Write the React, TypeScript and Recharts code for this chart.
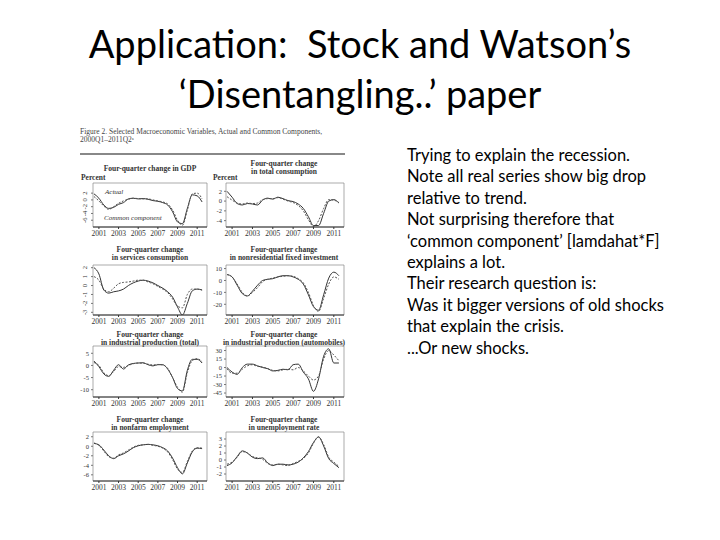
import { LineChart, Line, XAxis, YAxis, ReferenceArea } from "recharts";

// half-year points, 2000H2 .. 2011H2
const YEARS = [
  2000.5, 2001, 2001.5, 2002, 2002.5, 2003, 2003.5, 2004, 2004.5, 2005, 2005.5, 2006,
  2006.5, 2007, 2007.5, 2008, 2008.5, 2009, 2009.5, 2010, 2010.5, 2011, 2011.5,
];
const X_TICKS = [2001, 2003, 2005, 2007, 2009, 2011];

const gdpActual = [1.8, 0.5, -1.5, -2.5, -2.2, -1.3, -0.8, 0.3, 0.5, 0.3, 0.4, 0.2, -0.2, -0.4, -0.8, -1.5, -3.5, -6.5, -7, -2.5, 1.5, 1.2, -0.6];
const gdpCommon = [1.0, -0.3, -1.8, -2.8, -2, -1, -0.3, 0.2, 0.5, 0.4, 0.3, 0.3, 0, -0.3, -0.6, -1.2, -3, -6, -7.5, -3, 1.8, 2, 0.3];

const consActual = [2, 0.8, -0.5, -0.8, -0.5, -0.6, -0.8, 0.2, 0.6, 0.4, 0.8, 0.5, 0.1, -0.1, -0.6, -1.5, -3.2, -5, -5, -2.5, 0, 0.3, -0.4];
const consCommon = [0.9, 0.2, -0.4, -0.6, -0.4, -0.5, -0.4, 0.3, 0.5, 0.5, 0.7, 0.4, 0, -0.3, -0.9, -2, -3.8, -5.2, -4, -1.5, 0.3, 0.2, -0.3];

const servActual = [2.0, 1.3, -0.5, -0.85, -0.7, -0.6, -0.4, 0, 0.3, 0.5, 0.6, 0.5, 0.3, 0, -0.3, -0.7, -1.3, -2.4, -3.3, -2.0, -0.6, -0.4, -0.5];
const servCommon = [1.0, 0.6, -0.4, -0.7, -0.3, 0.2, 0.35, 0.4, 0.5, 0.6, 0.6, 0.4, 0.2, -0.1, -0.4, -0.8, -1.5, -2.3, -2.5, -1.0, -0.4, -0.4, -0.5];

const nonresActual = [5, 3, -4, -11, -13, -9, -4, 0, 1, 1.5, 3, 4, 4, 3, 1, -3, -12, -22, -25, -12, 2, 7, 4];
const nonresCommon = [5, 3, -3, -10, -13, -10, -6, -1, 1, 2, 3, 3.5, 4, 3.5, 1.5, -2, -10, -21, -26, -15, -3, 3, 1];

const ipActual = [1.8, -0.5, -3.5, -4.5, -2, 0.3, -1.5, 0.2, 0.8, 1, 1.1, 0.3, -0.2, 0.3, 0.3, -1.5, -5, -9.5, -10.5, -2, 2.5, 2.5, 1];
const ipCommon = [1.2, 0, -3, -4.2, -2.5, -0.5, -0.8, 0, 0.7, 1, 0.9, 0.5, 0.2, 0.4, 0.2, -1.2, -5, -9, -11, -3, 2, 2.8, 1.5];

const autoActual = [0, -8, -12, 0, 6, 6, 3, 0, -2, -6, -5, -3, -4, 5, 6, -8, -20, -42, -20, 20, 33, 8, 8];
const autoCommon = [-2, -10, -10, -3, 3, 5, 2, 1, -2, -5, -6, -4, -3, -4, 0, -6, -15, -22, -15, 15, 30, 22, 12];

const empActual = [0.6, 0.3, -0.8, -2, -2.6, -2, -1.6, -1, -0.3, 0.1, 0.3, 0.4, 0.3, 0.1, -0.3, -1, -2.5, -4.5, -5.8, -3.5, -1.2, -0.4, -0.5];
const empCommon = [0.7, 0.2, -1, -2.2, -2.5, -1.8, -1.4, -0.8, -0.2, 0.2, 0.3, 0.4, 0.2, 0, -0.4, -1.2, -2.8, -4.8, -5.5, -3.2, -1.0, -0.3, -0.4];

const unempActual = [-0.8, -0.4, 0.5, 1.3, 1.0, 0.4, 0.2, 0.3, -0.4, -0.8, -0.6, -0.6, -0.7, -0.6, -0.3, 0.3, 1.2, 2.5, 3.3, 2.0, 0.2, -0.5, -1.1];
const unempCommon = [-0.6, -0.3, 0.4, 1.2, 1.0, 0.5, 0.3, 0.1, -0.5, -0.7, -0.6, -0.7, -0.8, -0.5, -0.2, 0.2, 1.0, 2.4, 3.3, 2.2, 0.4, -0.3, -0.9];

const BODY_LINES = [
  "Trying to explain the recession.",
  "Note all real series show big drop",
  "relative to trend.",
  "Not surprising therefore that",
  "‘common component’ [lamdahat*F]",
  "explains a lot.",
  "Their research question is:",
  "Was it bigger versions of old shocks",
  "that explain the crisis.",
  "...Or new shocks.",
];

const SERIF = "'Liberation Serif', 'DejaVu Serif', serif";
const LEFT_COL = { left: 80, width: 131, yWidth: 13, right: 4 };
const RIGHT_COL = { left: 212, width: 134, yWidth: 14, right: 2 };

const PANELS = [
  { title: ["Four-quarter change in GDP"], actual: gdpActual, common: gdpCommon, domain: [-8, 5], ticks: [2, 0, -2, -4, -6], col: LEFT_COL, top: 182, height: 57, titleY: 164, percent: true, rotate: true },
  { title: ["Four-quarter change", "in total consumption"], actual: consActual, common: consCommon, domain: [-5.3, 3.7], ticks: [2, 0, -2, -4], col: RIGHT_COL, top: 182, height: 57, titleY: 160, percent: true },
  { title: ["Four-quarter change", "in services consumption"], actual: servActual, common: servCommon, domain: [-3.3, 2.3], ticks: [2, 1, 0, -1, -2, -3], col: LEFT_COL, top: 264, height: 63, titleY: 246, rotate: true },
  { title: ["Four-quarter change", "in nonresidential fixed investment"], actual: nonresActual, common: nonresCommon, domain: [-29, 13], ticks: [10, 0, -10, -20], col: RIGHT_COL, top: 264, height: 63, titleY: 246 },
  { title: ["Four-quarter change", "in industrial production (total)"], actual: ipActual, common: ipCommon, domain: [-13, 8], ticks: [5, 0, -5, -10], col: LEFT_COL, top: 345, height: 64, titleY: 331 },
  { title: ["Four-quarter change", "in industrial production (automobiles)"], actual: autoActual, common: autoCommon, domain: [-52, 38], ticks: [30, 15, 0, -15, -30, -45], col: RIGHT_COL, top: 345, height: 64, titleY: 331 },
  { title: ["Four-quarter change", "in nonfarm employment"], actual: empActual, common: empCommon, domain: [-7.3, 3], ticks: [2, 0, -2, -4, -6], col: LEFT_COL, top: 431, height: 62, titleY: 416 },
  { title: ["Four-quarter change", "in unemployment rate"], actual: unempActual, common: unempCommon, domain: [-3, 4], ticks: [3, 2, 1, 0, -1, -2], col: RIGHT_COL, top: 431, height: 62, titleY: 416 },
];

const X_TICK = { fontSize: 7.5, fontFamily: SERIF, fill: "#333" };
const Y_TICK = { fontSize: 6.5, fontFamily: SERIF, fill: "#333" };

function RotatedTick({ x, y, payload }) {
  const cx = x - 2;
  return (
    <text x={cx} y={y} transform={`rotate(-90 ${cx} ${y})`} textAnchor="middle" fontSize={6.5} fontFamily={SERIF} fill="#333">
      {payload.value}
    </text>
  );
}

function MiniPanel({ panel }) {
  const { col } = panel;
  const data = YEARS.map((year, i) => ({ year, actual: panel.actual[i], common: panel.common[i] }));
  const titleTop = panel.title.length === 1 ? panel.titleY + 1 : panel.titleY;
  return (
    <>
      <div
        style={{
          position: "absolute",
          left: col.left + col.yWidth - 6,
          width: col.width - col.yWidth + 8,
          top: titleTop,
          textAlign: "center",
          fontFamily: SERIF,
          fontWeight: "bold",
          fontSize: 7.5,
          lineHeight: "8px",
          color: "#333",
          whiteSpace: "nowrap",
        }}
      >
        {panel.title.map((t) => (
          <div key={t}>{t}</div>
        ))}
      </div>
      {panel.percent && (
        <div style={{ position: "absolute", left: col.left + 1, top: 173, fontFamily: SERIF, fontWeight: "bold", fontSize: 7.5, color: "#333" }}>
          Percent
        </div>
      )}
      <div style={{ position: "absolute", left: col.left, top: panel.top }}>
        <LineChart width={col.width} height={panel.height} data={data} margin={{ top: 1, right: col.right, left: 0, bottom: 0 }}>
          <XAxis
            dataKey="year"
            type="number"
            domain={[2000.4, 2012]}
            ticks={X_TICKS}
            tick={X_TICK}
            tickSize={2}
            height={12}
            stroke="#333"
            interval={0}
          />
          <YAxis
            type="number"
            domain={panel.domain}
            ticks={panel.ticks}
            tick={panel.rotate ? RotatedTick : Y_TICK}
            tickSize={2}
            width={col.yWidth}
            stroke="#777"
            axisLine={false}
            interval={0}
            allowDataOverflow
          />
          <ReferenceArea x1={2000.4} x2={2012} y1={panel.domain[0]} y2={panel.domain[1]} fill="none" stroke="#888" strokeWidth={0.7} />
          <Line type="monotone" dataKey="actual" stroke="#333" strokeWidth={1} dot={false} isAnimationActive={false} />
          <Line type="monotone" dataKey="common" stroke="#555" strokeWidth={1} strokeDasharray="2 1.5" dot={false} isAnimationActive={false} />
        </LineChart>
      </div>
    </>
  );
}

export default function App() {
  return (
    <div style={{ position: "absolute", left: 0, top: 0, width: 720, height: 540, background: "#fff", overflow: "hidden" }}>
      <div
        style={{
          position: "absolute",
          left: 0,
          width: 720,
          top: 18,
          textAlign: "center",
          fontFamily: "Lato, 'Open Sans', sans-serif",
          fontSize: 38,
          lineHeight: "50px",
          color: "#000",
        }}
      >
        <div>Application:&nbsp; Stock and Watson’s</div>
        <div>‘Disentangling..’ paper</div>
      </div>

      <div style={{ position: "absolute", left: 80, top: 128, fontFamily: SERIF, fontSize: 7.5, lineHeight: "8px", color: "#444", whiteSpace: "nowrap" }}>
        <div>Figure 2. Selected Macroeconomic Variables, Actual and Common Components,</div>
        <div>2000Q1–2011Q2ᵃ</div>
      </div>
      <div style={{ position: "absolute", left: 80, top: 153, width: 265, height: 2, background: "#888" }} />

      {PANELS.map((p) => (
        <MiniPanel key={p.title.join(" ")} panel={p} />
      ))}

      <div style={{ position: "absolute", left: 105, top: 188, fontFamily: SERIF, fontStyle: "italic", fontSize: 7, color: "#333" }}>Actual</div>
      <div style={{ position: "absolute", left: 104, top: 214, fontFamily: SERIF, fontStyle: "italic", fontSize: 7, color: "#333" }}>
        Common component
      </div>

      <div
        style={{
          position: "absolute",
          left: 407,
          top: 145,
          fontFamily: "Lato, 'Open Sans', sans-serif",
          fontSize: 16.5,
          lineHeight: "21.4px",
          color: "#000",
          whiteSpace: "nowrap",
        }}
      >
        {BODY_LINES.map((line) => (
          <div key={line}>{line}</div>
        ))}
      </div>
    </div>
  );
}
